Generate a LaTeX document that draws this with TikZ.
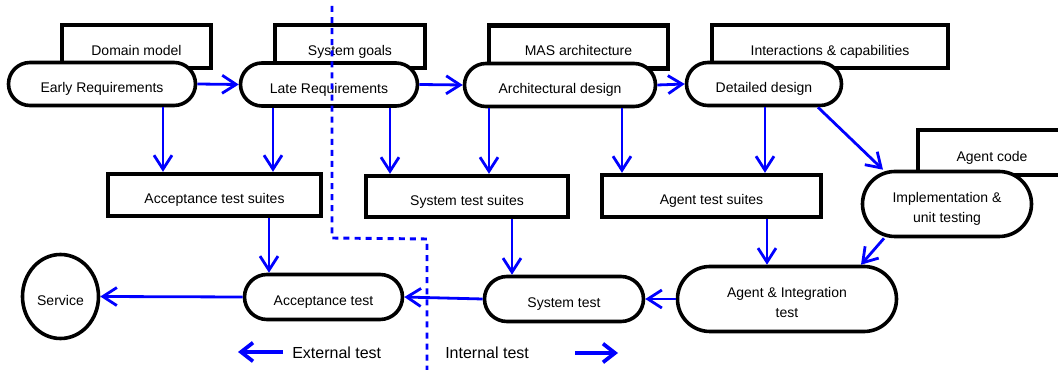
\documentclass[tikz,border=0pt]{standalone}
\usepackage{fontspec}
\setmainfont{Liberation Sans}
\usetikzlibrary{arrows.meta,shapes.misc,shapes.geometric}
\newcommand{\diagfont}{\fontsize{10.5pt}{12.6pt}\selectfont}
\newcommand{\twolinefont}{\fontsize{10.5pt}{15pt}\selectfont}
\newcommand{\legfont}{\fontsize{12pt}{14pt}\selectfont}
\newcommand{\twolines}[2]{\raisebox{-3.7pt}[\height][\depth]{\begin{tabular}{@{}c@{}}#1\\#2\end{tabular}}}
\begin{document}
\begin{tikzpicture}[x=0.75pt,y=-0.75pt,
  topbox/.style={draw, line width=3.3pt, fill=white, font=\diagfont,
    text height=15.3pt, text depth=2.5pt, minimum height=32.25pt, inner sep=0pt},
  pill/.style={rounded rectangle, draw, line width=2.7pt, fill=white,
    font=\diagfont, inner sep=0pt, minimum height=32.25pt},
  oneline/.style={text height=15.4pt, text depth=2.5pt},
  twoline/.style={font=\twolinefont, minimum height=48.75pt},
  suite/.style={draw, line width=3.3pt, fill=white, font=\diagfont,
    text height=15.5pt, text depth=2.5pt, inner sep=0pt, minimum height=31.5pt},
  arr/.style={draw=blue, line width=2.1pt, -{Straight Barb[length=10.5pt,width=13.5pt]}},
  legarr/.style={draw=blue, line width=2.8pt, -{Straight Barb[length=9pt,width=14pt]}},
  legtext/.style={font=\legfont, inner sep=0pt, anchor=west},
  boundary/.style={draw=blue, line width=2.2pt, dash pattern=on 4.5pt off 3.8pt}
]
\clip (0,0) rectangle (1058,370);
\fill[white] (0,0) rectangle (1058,370);

% work products (behind the phases)
\node[topbox, minimum width=111.75pt] (dm)  at (136.5,46.5) {Domain model};
\node[topbox, minimum width=112.5pt]  (sg)  at (350,46.5)   {System goals};
\node[topbox, minimum width=134.25pt] (mas) at (578.5,47)   {MAS architecture};
\node[topbox, minimum width=177pt]    (ic)  at (830,46.5)   {Interactions \& capabilities};
\node[topbox, minimum width=111pt, minimum height=33.75pt] (ac) at (992,152.5) {Agent code};

% phases
\node[pill, oneline, minimum width=140.25pt] (er) at (102,84)   {Early Requirements};
\node[pill, oneline, minimum width=132.75pt] (lr) at (329,84.5) {Late Requirements};
\node[pill, oneline, minimum width=143.25pt] (ad) at (560,85)   {Architectural design};
\node[pill, oneline, minimum width=116.25pt] (dd) at (764,84)   {Detailed design};
\node[pill, twoline, minimum width=126.75pt] (impl) at (947,204) {\twolines{Implementation \&}{unit testing}};
\node[pill, twoline, minimum width=164.25pt] (ait) at (787,299) {\twolines{Agent \& Integration}{test}};
\node[pill, oneline, minimum width=119.25pt, minimum height=33.75pt] (st) at (564,299) {System test};
\node[pill, oneline, minimum width=118.5pt, minimum height=33.75pt]  (at) at (323.5,297) {Acceptance test};
\node[ellipse, draw, line width=2.7pt, fill=white, font=\diagfont, inner sep=0pt,
      text height=15.4pt, text depth=2.5pt,
      minimum width=57pt, minimum height=63pt] (svc) at (60.5,296.5) {Service};

% test suites
\node[suite, minimum width=159.75pt] (ats) at (214.5,195) {Acceptance test suites};
\node[suite, minimum width=151.5pt, minimum height=30.75pt] (sts) at (467,196.5) {System test suites};
\node[suite, minimum width=164.25pt] (ags) at (711.5,196) {Agent test suites};

% columns for vertical connectors
\coordinate (k1) at (163,0);
\coordinate (k2) at (273,0);
\coordinate (k3) at (390,0);
\coordinate (k4) at (489,0);
\coordinate (k5) at (622,0);
\coordinate (k6) at (765,0);
\coordinate (k7) at (818,0);
\coordinate (k8) at (883,0);
\coordinate (k9) at (269,0);
\coordinate (k10) at (512,0);
\coordinate (k11) at (767,0);
\coordinate (k12) at (884,0);
\coordinate (k13) at (861,0);

\draw[arr] (er.east) -- (lr.west);
\draw[arr] (lr.east) -- (ad.west);
\draw[arr] (ad.east) -- (dd.west);
\draw[arr] (er.south -| k1) -- (ats.north -| k1);
\draw[arr] (lr.south -| k2) -- (ats.north -| k2);
\draw[arr] (lr.south -| k3) -- (sts.north -| k3);
\draw[arr] (ad.south -| k4) -- (sts.north -| k4);
\draw[arr] (ad.south -| k5) -- (ags.north -| k5);
\draw[arr] (dd.south -| k6) -- (ags.north -| k6);
\draw[arr] (dd.south -| k7) -- (impl.north -| k8);
\draw[arr] (ats.south -| k9) -- (at.north -| k9);
\draw[arr] (sts.south -| k10) -- (st.north -| k10);
\draw[arr] (ags.south -| k11) -- (ait.north -| k11);
\draw[arr] (impl.south -| k12) -- (ait.north -| k13);
\draw[arr] (ait.west) -- (st.east);
\draw[arr] (st.west) -- (at.east);
\draw[arr] (at.west) -- (svc.east);

% legend
\node[legtext] (ext) at (292,353) {External test};
\node[legtext] (int) at (445,353) {Internal test};
\coordinate (le1) at (283,352);
\coordinate (le2) at (238,352);
\coordinate (li1) at (575,353);
\coordinate (li2) at (618,353);
\draw[legarr] (le1) -- (le2);
\draw[legarr] (li1) -- (li2);

% external / internal boundary
\draw[boundary] (332,6) -- (332,238) -- (427,239) -- (427,372);
\end{tikzpicture}
\end{document}
